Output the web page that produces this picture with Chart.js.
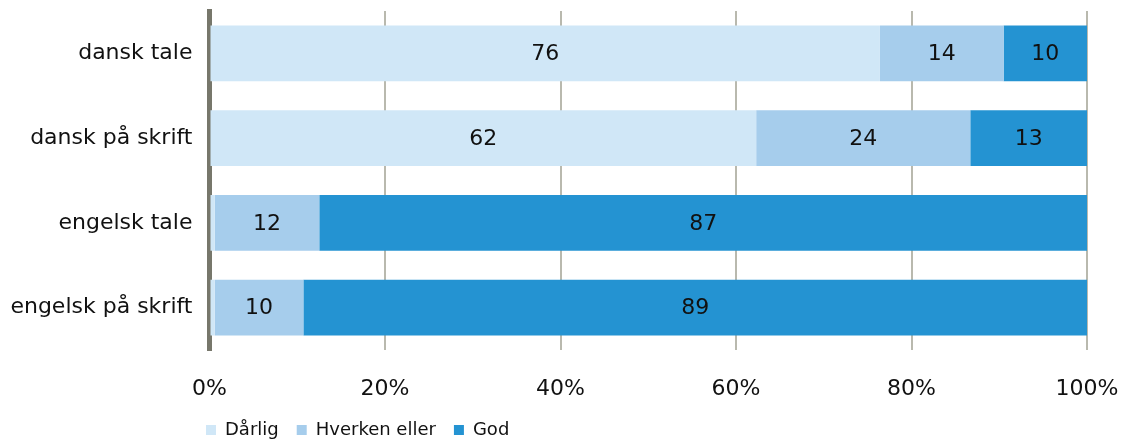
<!DOCTYPE html>
<html>
<head>
<meta charset="utf-8">
<script src="https://cdn.jsdelivr.net/npm/chart.js@4/dist/chart.umd.min.js"></script>
<style>
    html, body { margin: 0; padding: 0; background: #fff; }
    #wrap { width: 1128px; height: 439px; position: relative; }
</style>
</head>
<body>
<div id="wrap"><canvas id="chart"></canvas></div>
<script>
const categories = ['dansk tale', 'dansk på skrift', 'engelsk tale', 'engelsk på skrift']
const seriesNames = ['Dårlig', 'Hverken eller', 'God']
const darlig = [76.4, 62.3, 0.6, 0.6]
const hverken = [14.1, 24.4, 11.9, 10.1]
const god = [9.5, 13.3, 87.4, 89.3]
const xTicks = [0, 20, 40, 60, 80, 100]

const colors = ['#d0e7f7', '#a6cdec', '#2493d2']
const font = 'DejaVu Sans, Verdana, sans-serif'

// stacked to 100%
const totals = categories.map((c, i) => darlig[i] + hverken[i] + god[i])
const toPct = arr => arr.map((v, i) => v / totals[i] * 100)

const datasets = [darlig, hverken, god].map((values, idx) => ({
    label: seriesNames[idx],
    data: toPct(values),
    raw: values,
    backgroundColor: colors[idx],
    borderWidth: 0,
    barPercentage: 0.66,
    categoryPercentage: 1
}))

const barLabels = {
    id: 'barLabels',
    afterDatasetsDraw(chart) {
        const ctx = chart.ctx
        ctx.save()
        ctx.font = `22px ${font}`
        ctx.fillStyle = '#111'
        ctx.textAlign = 'center'
        ctx.textBaseline = 'middle'
        chart.data.datasets.forEach((ds, di) => {
            chart.getDatasetMeta(di).data.forEach((bar, i) => {
                if (ds.raw[i] < 3) return
                const { x, y, base } = bar.getProps(['x', 'y', 'base'], true)
                ctx.fillText(Math.round(ds.raw[i]), (x + base) / 2, y + 1)
            })
        })
        ctx.restore()
    }
}

// legend sits at the bottom left, under the axis
const legendShift = {
    id: 'legendShift',
    afterLayout(chart) {
        chart.legend.left = 188
        chart.legend.top = 403
    }
}

const noPad = s => { s.paddingTop = 0; s.paddingBottom = 0; s.paddingLeft = 0; s.paddingRight = 0 }

new Chart(document.getElementById('chart'), {
    type: 'bar',
    data: { labels: categories, datasets },
    options: {
        indexAxis: 'y',
        responsive: true,
        maintainAspectRatio: false,
        animation: false,
        layout: { padding: { top: 11, right: 41, bottom: -10, left: 0 } },
        scales: {
            x: {
                stacked: true,
                min: 0,
                max: 100,
                afterBuildTicks: s => { s.ticks = xTicks.map(v => ({ value: v })) },
                afterFit: s => { s.height = 53; noPad(s) },
                ticks: {
                    callback: v => v + '%',
                    color: '#111',
                    font: { family: font, size: 22 },
                    padding: 26,
                    maxRotation: 0
                },
                grid: { color: '#b9b9ae', lineWidth: 2, drawTicks: false },
                border: { display: false }
            },
            y: {
                stacked: true,
                afterFit: s => { s.width = 209.5; noPad(s) },
                ticks: {
                    color: '#111',
                    font: { family: font, size: 22 },
                    padding: 17
                },
                grid: { display: false, drawTicks: false },
                border: { display: true, color: '#77776b', width: 5 }
            }
        },
        plugins: {
            legend: {
                position: 'bottom',
                align: 'start',
                labels: {
                    boxWidth: 10,
                    boxHeight: 10,
                    padding: 18,
                    color: '#111',
                    font: { family: font, size: 18 }
                }
            },
            tooltip: { enabled: false }
        }
    },
    plugins: [barLabels, legendShift]
})
</script>
</body>
</html>
